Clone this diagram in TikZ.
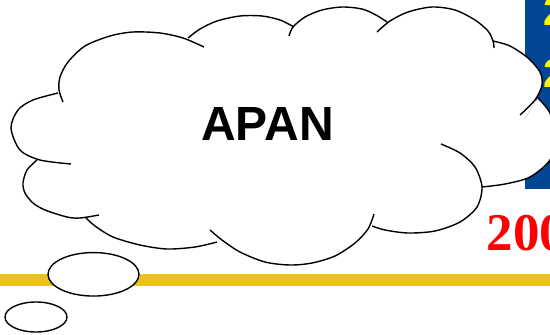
\documentclass[tikz,border=0pt]{standalone}
\usepackage{fontspec}
\usepackage{xcolor}
\usepackage{tikz}
\usetikzlibrary{shapes.geometric}
\newfontfamily\arialfont{Liberation Sans}
\newfontfamily\timesfont{Liberation Serif}
\definecolor{slideblue}{RGB}{2,71,148}
\definecolor{slidebar}{RGB}{234,195,30}
\begin{document}
\begin{tikzpicture}[x=1pt,y=-1pt,semithick]
 				 \tikzstyle{lobe}=[draw=black, line width=1.4pt]
 				 \tikzstyle{bubble}=[ellipse, fill=white, draw=black, line width=1.4pt, inner sep=0pt]
			\useasboundingbox (0,0) rectangle (550,335);
			% background of the slide
			\fill[slideblue] (525,0) rectangle (550,189);
			\fill[slidebar] (0,274) rectangle (550,286);
			\node[anchor=base west, inner sep=0pt, text=yellow, font=\arialfont\bfseries\fontsize{40}{40}\selectfont] (Y1) at (543,25) {2};
			\node[anchor=base west, inner sep=0pt, text=yellow, font=\arialfont\bfseries\fontsize{40}{40}\selectfont] (Y2) at (543,87) {2};
			\node[anchor=base west, inner sep=0pt, text=red, font=\timesfont\bfseries\fontsize{53}{53}\selectfont] (year) at (486.5,250) {200};
			% white inside of the cloud
			\fill[white] (37,161) -- (59,93) -- (190,38) -- (291,30) -- (380,27) -- (494,44) -- (536,101) -- (482,186) -- (372,225) -- (214,237) -- (90,217) -- cycle;
			\fill[white] plot[smooth] coordinates {(493,41) (510,46) (528,58) (540,72) (542,85) (535,100) (520,115)} -- cycle;
			\fill[white] plot[smooth] coordinates {(538,98) (550,113) (556,137) (550,160) (530,177) (505,184) (482,187)} -- cycle;
			% lobes of the cloud
			\draw[lobe] plot[smooth] coordinates {(71,164) (40,160) (20,150) (11,128) (18,110) (33,100) (58,93)};
			\draw[lobe] plot[smooth] coordinates {(63,102) (59,90) (60,77) (68,62) (85,46) (110,36) (133,32) (160,33) (183,38) (204,47)};
			\draw[lobe] plot[smooth] coordinates {(188,38) (200,29) (217,21) (240,16) (262,16) (280,20) (294,27)};
			\draw[lobe] plot[smooth] coordinates {(289,36) (293,27) (305,17) (322,10) (342,7) (362,9) (376,15) (387,22)};
			\draw[lobe] plot[smooth] coordinates {(377,32) (390,21) (408,12) (432,7) (455,10) (475,20) (488,31) (493,41) (494,48)};
			\draw[lobe] plot[smooth] coordinates {(493,41) (510,46) (528,58) (540,72) (542,85) (535,100) (520,115)};
			\draw[lobe] plot[smooth] coordinates {(538,98) (550,113) (556,137) (550,160) (530,177) (505,184) (482,187)};
			\draw[lobe] plot[smooth] coordinates {(441,144) (460,153) (475,167) (482,187) (477,207) (460,222) (435,231) (408,233) (385,230) (372,226)};
			\draw[lobe] plot[smooth] coordinates {(374,214) (368,229) (355,243) (335,256) (312,263) (290,265) (265,262) (240,252) (222,240) (210,230)};
			\draw[lobe] plot[smooth] coordinates {(217,242) (195,247) (167,249) (140,245) (113,237) (95,226) (85,217)};
			\draw[lobe] plot[smooth] coordinates {(99,215) (80,218) (67,217) (45,210) (33,203) (25,193) (23,183) (27,170) (37,160)};
			\node[anchor=base, inner sep=0pt, font=\arialfont\bfseries\fontsize{48}{48}\selectfont] (apan) at (267.5,140.5) {APAN};
			% thought bubbles
			\node[bubble, minimum width=91pt, minimum height=43.5pt] (big) at (93.5,274.3) {};
			\node[bubble, minimum width=62pt, minimum height=30pt] (small) at (36,317) {};
 	\end{tikzpicture}
\end{document}
